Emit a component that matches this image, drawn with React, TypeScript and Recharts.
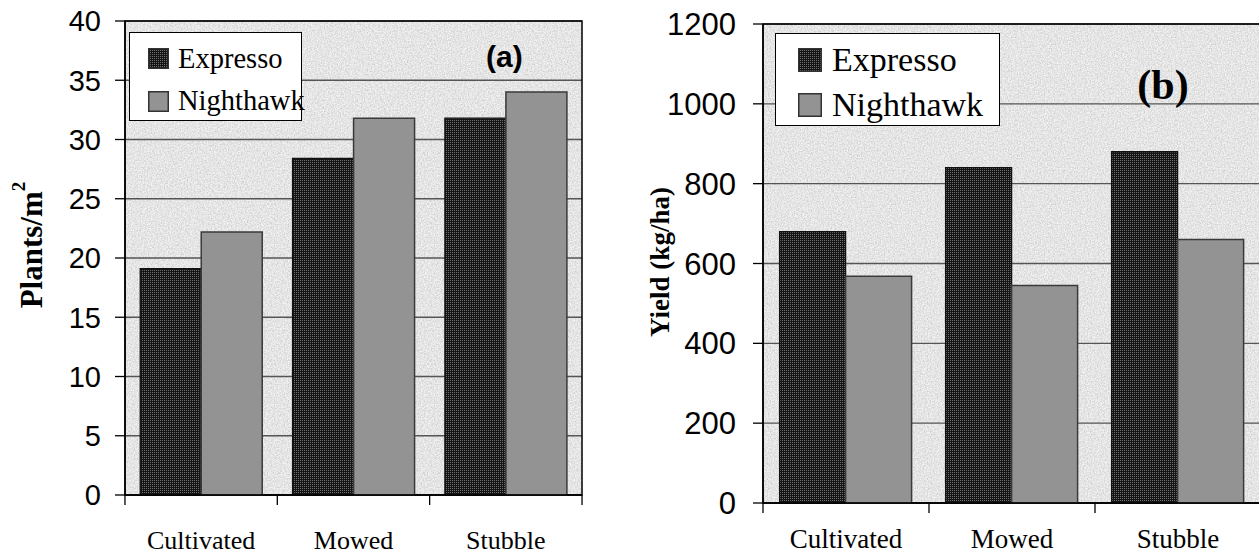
import { BarChart, Bar, XAxis, YAxis, CartesianGrid, ReferenceArea } from "recharts";

const categories = ["Cultivated", "Mowed", "Stubble"];
const seriesNames = ["Expresso", "Nighthawk"];
const plantsExpresso = [19.1, 28.4, 31.8];
const plantsNighthawk = [22.2, 31.8, 34.0];
const yieldExpresso = [680, 840, 880];
const yieldNighthawk = [568, 545, 660];
const plantsTicks = [0, 5, 10, 15, 20, 25, 30, 35, 40];
const yieldTicks = [0, 200, 400, 600, 800, 1000, 1200];

const plantsData = categories.map((c, i) => ({
  name: c,
  Expresso: plantsExpresso[i],
  Nighthawk: plantsNighthawk[i],
}));
const yieldData = categories.map((c, i) => ({
  name: c,
  Expresso: yieldExpresso[i],
  Nighthawk: yieldNighthawk[i],
}));

const TIMES = "'Liberation Serif', 'Times New Roman', serif";
const ARIAL = "'Liberation Sans', Arial, sans-serif";
const DARK = "url(#darkDots)";
const GREY = "#939393";

function Patterns() {
  return (
    <defs>
      <pattern id="darkDots" width="2" height="2" patternUnits="userSpaceOnUse">
        <rect width="2" height="2" fill="#141414" />
        <rect width="1" height="1" fill="#707070" />
      </pattern>
      <filter id="grain" x="0" y="0" width="100%" height="100%">
        <feTurbulence type="fractalNoise" baseFrequency="0.7" numOctaves="2" seed="4" />
        <feColorMatrix
          type="matrix"
          values="0 0 0 0 0.35  0 0 0 0 0.35  0 0 0 0 0.35  0.9 0 0 0 -0.3"
        />
      </filter>
      <pattern id="paper" width="160" height="160" patternUnits="userSpaceOnUse">
        <rect width="160" height="160" fill="#f1f1f1" />
        <rect width="160" height="160" filter="url(#grain)" />
      </pattern>
    </defs>
  );
}

function CatTick(props: any) {
  const { x, payload, index, half, axisY, textY, fontSize } = props;
  const last = index === categories.length - 1;
  return (
    <g>
      <line x1={x - half} x2={x - half} y1={axisY} y2={axisY + 10} stroke="#000" strokeWidth={1.3} />
      {last && (
        <line x1={x + half} x2={x + half} y1={axisY} y2={axisY + 10} stroke="#000" strokeWidth={1.3} />
      )}
      <text x={x} y={textY} textAnchor="middle" fontFamily={TIMES} fontSize={fontSize} fill="#000">
        {payload.value}
      </text>
    </g>
  );
}

// legend drawn as an overlay so it doesn't eat plot space
function LegendBox({ left, top, w, h, mx, mw, rows, tx, fs }: any) {
  return (
    <div
      style={{
        position: "absolute",
        left,
        top,
        width: w,
        height: h,
        boxSizing: "border-box",
        border: "1.5px solid #000",
        background: "#fff",
      }}
    >
      {seriesNames.map((n, i) => (
        <div key={n}>
          <svg
            width={mw}
            height={mw}
            style={{ position: "absolute", left: mx, top: rows[i] - mw / 2 }}
          >
            <Patterns />
            <rect
              x={0.75}
              y={0.75}
              width={mw - 1.5}
              height={mw - 1.5}
              fill={i === 0 ? DARK : GREY}
              stroke="#333"
              strokeWidth={1.5}
            />
          </svg>
          <div
            style={{
              position: "absolute",
              left: tx,
              top: rows[i],
              transform: "translateY(-50%)",
              fontFamily: TIMES,
              fontSize: fs,
              lineHeight: 1,
              color: "#000",
              whiteSpace: "nowrap",
            }}
          >
            {n}
          </div>
        </div>
      ))}
    </div>
  );
}

export default function App() {
  return (
    <div
      style={{
        position: "absolute",
        left: 0,
        top: 0,
        width: 1259,
        height: 556,
        overflow: "hidden",
        background: "#fff",
      }}
    >
      {/* (a) plants per m2 */}
      <div style={{ position: "absolute", left: 0, top: 0, width: 600, height: 556 }}>
        <BarChart
          width={600}
          height={556}
          data={plantsData}
          margin={{ top: 21, right: 18, bottom: 21, left: 65 }}
          barCategoryGap="10%"
          barGap={0}
        >
          <Patterns />
          <CartesianGrid vertical={false} fill="url(#paper)" stroke="#555" strokeWidth={1.3} />
          <XAxis
            dataKey="name"
            height={40}
            axisLine={{ stroke: "#000", strokeWidth: 1.5 }}
            tickLine={false}
            interval={0}
            tick={(p: any) => <CatTick {...p} half={76.2} axisY={495} textY={549} fontSize={26} />}
          />
          <YAxis
            width={60}
            domain={[0, 40]}
            ticks={plantsTicks}
            interval={0}
            tickSize={10}
            tickMargin={14}
            axisLine={{ stroke: "#000", strokeWidth: 1.5 }}
            tickLine={{ stroke: "#000", strokeWidth: 1.3 }}
            tick={{ fill: "#000", fontFamily: ARIAL, fontSize: 29 }}
            label={{
              content: () => (
                <text
                  x={31}
                  y={245}
                  transform="rotate(-90 31 245)"
                  textAnchor="middle"
                  dominantBaseline="central"
                  fontFamily={TIMES}
                  fontWeight="bold"
                  fontSize={31}
                  fill="#000"
                >
                  Plants/m
                  <tspan dy={-13} fontSize={19}>
                    2
                  </tspan>
                </text>
              ),
            }}
          />
          <Bar dataKey="Expresso" fill={DARK} stroke="#111" strokeWidth={1.3} isAnimationActive={false} />
          <Bar dataKey="Nighthawk" fill={GREY} stroke="#3a3a3a" strokeWidth={1.5} isAnimationActive={false} />
          <ReferenceArea y1={0} y2={40} fill="none" stroke="#000" strokeWidth={1.5} />
        </BarChart>
        <LegendBox left={129} top={32} w={173} h={89} mx={18} mw={21} rows={[25.5, 68]} tx={48} fs={28.5} />
        <div
          style={{
            position: "absolute",
            left: 486,
            top: 57,
            transform: "translateY(-50%)",
            fontFamily: ARIAL,
            fontWeight: "bold",
            fontSize: 30,
            lineHeight: 1,
          }}
        >
          (a)
        </div>
      </div>

      {/* (b) yield */}
      <div style={{ position: "absolute", left: 620, top: 0, width: 660, height: 556 }}>
        <BarChart
          width={660}
          height={556}
          data={yieldData}
          margin={{ top: 24, right: 19, bottom: 13, left: 73 }}
          barCategoryGap="10%"
          barGap={0}
        >
          <Patterns />
          <CartesianGrid vertical={false} fill="url(#paper)" stroke="#555" strokeWidth={1.3} />
          <XAxis
            dataKey="name"
            height={40}
            axisLine={{ stroke: "#000", strokeWidth: 1.5 }}
            tickLine={false}
            interval={0}
            tick={(p: any) => <CatTick {...p} half={83} axisY={503} textY={548} fontSize={27} />}
          />
          <YAxis
            width={70}
            domain={[0, 1200]}
            ticks={yieldTicks}
            interval={0}
            tickSize={10}
            tickMargin={17}
            axisLine={{ stroke: "#000", strokeWidth: 1.5 }}
            tickLine={{ stroke: "#000", strokeWidth: 1.3 }}
            tick={{ fill: "#000", fontFamily: ARIAL, fontSize: 31 }}
            label={{
              content: () => (
                <text
                  x={40}
                  y={262}
                  transform="rotate(-90 40 262)"
                  textAnchor="middle"
                  dominantBaseline="central"
                  fontFamily={TIMES}
                  fontWeight="bold"
                  fontSize={27}
                  fill="#000"
                >
                  Yield (kg/ha)
                </text>
              ),
            }}
          />
          <Bar dataKey="Expresso" fill={DARK} stroke="#111" strokeWidth={1.3} isAnimationActive={false} />
          <Bar dataKey="Nighthawk" fill={GREY} stroke="#3a3a3a" strokeWidth={1.5} isAnimationActive={false} />
          <ReferenceArea y1={0} y2={1200} fill="none" stroke="#000" strokeWidth={1.5} />
        </BarChart>
        <LegendBox left={155} top={33} w={225} h={93} mx={22} mw={24} rows={[25.5, 71]} tx={56} fs={34} />
        <div
          style={{
            position: "absolute",
            left: 543,
            top: 85,
            transform: "translate(-50%, -50%)",
            fontFamily: TIMES,
            fontWeight: "bold",
            fontSize: 42,
            lineHeight: 1,
          }}
        >
          (b)
        </div>
      </div>
    </div>
  );
}
